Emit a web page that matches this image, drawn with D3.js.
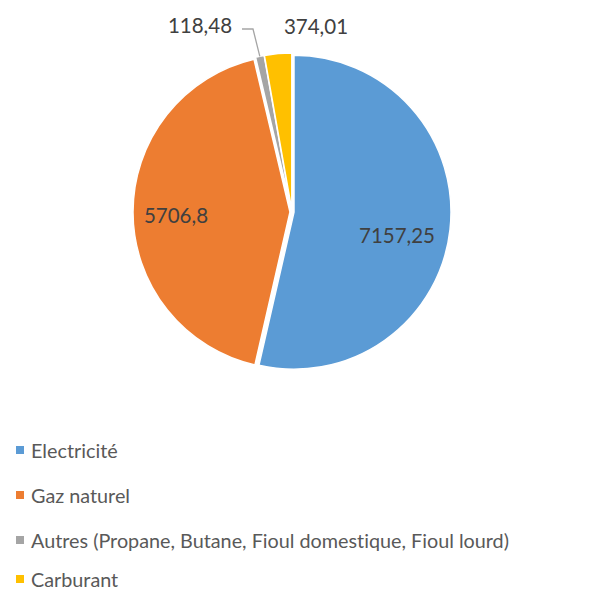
<!DOCTYPE html>
<html><head><meta charset="utf-8">
<script src="https://cdn.jsdelivr.net/npm/d3@7"></script>
<style>body{margin:0;background:#fff}svg{display:block}text{font-variant-ligatures:none}</style>
</head><body>
<svg id="c" width="592" height="592"></svg>
<script>
const categories = ["Electricité","Gaz naturel","Autres (Propane, Butane, Fioul domestique, Fioul lourd)","Carburant"];
const values = [7157.25, 5706.8, 118.48, 374.01];
const valueLabels = ["7157,25","5706,8","118,48","374,01"];
const colors = ["#5B9BD5","#ED7D31","#A5A5A5","#FFC000"];

const svg = d3.select("#c");
const cx = 292, cy = 212, R = 157, explode = 2;
const font = "Lato, 'Open Sans', sans-serif";

const pie = d3.pie().sort(null).value(d => d)(values);
const arc = d3.arc().innerRadius(0).outerRadius(R);
const g = svg.append("g").attr("transform", `translate(${cx},${cy})`);
pie.forEach((p, i) => {
  const mid = (p.startAngle + p.endAngle) / 2;
  const dx = Math.sin(mid) * explode, dy = -Math.cos(mid) * explode;
  g.append("path").attr("d", arc(p)).attr("fill", colors[i])
    .attr("stroke", "#fff").attr("stroke-width", 1.5)
    .attr("transform", `translate(${dx},${dy})`);
});

// data labels
const labelPos = [[cx + 105, cy + 23], [cx - 116, cy + 3], [cx - 92, cy - 187], [cx + 24, cy - 186]];
valueLabels.forEach((t, i) => {
  svg.append("text").attr("x", labelPos[i][0]).attr("y", labelPos[i][1])
    .attr("text-anchor", "middle").attr("dominant-baseline", "central")
    .attr("font-family", font).attr("font-size", 20.5).attr("fill", "#404040").text(t);
});
// leader line for Autres
const pA = pie[2];
const midA = (pA.startAngle + pA.endAngle) / 2;
const ex = cx + Math.sin(midA) * (R + explode), ey = cy - Math.cos(midA) * (R + explode);
svg.append("polyline")
  .attr("points", `${cx - 50},${cy - 183} ${cx - 39},${cy - 183} ${ex},${ey}`)
  .attr("fill", "none").attr("stroke", "#A5A5A5").attr("stroke-width", 1.3);

// legend
const legY = [450, 495, 540, 579];
categories.forEach((c, i) => {
  svg.append("rect").attr("x", 16).attr("y", legY[i] - 4).attr("width", 8).attr("height", 8).attr("fill", colors[i]);
  svg.append("text").attr("x", 31).attr("y", legY[i]).attr("dominant-baseline", "central")
    .attr("font-family", font).attr("font-size", 19.8).attr("fill", "#595959").text(c);
});
</script>
</body></html>
